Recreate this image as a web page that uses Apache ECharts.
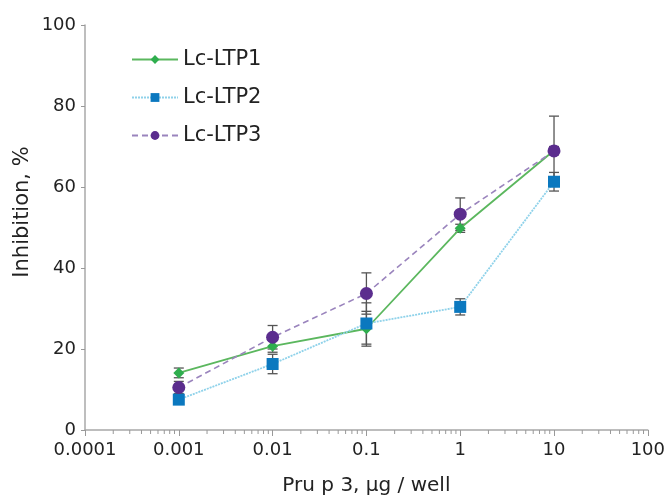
<!DOCTYPE html>
<html>
<head>
<meta charset="utf-8">
<script src="https://cdn.jsdelivr.net/npm/echarts@6/dist/echarts.min.js"></script>
<style>
html,body{margin:0;padding:0;background:#fff;}
#c{width:668px;height:501px;}
</style>
</head>
<body>
<div id="c"></div>
<script>
// ---- data ----
var doses = [0.001, 0.01, 0.1, 1, 10];
var ltp1 = [14.1, 20.7, 25.0, 49.8, 69.0];
var ltp1Err = [1.2, 1.5, 4.3, 1.0, 1.0];
var ltp2 = [7.5, 16.3, 26.3, 30.4, 61.3];
var ltp2Err = [1.0, 2.4, 5.1, 2.0, 2.3];
var ltp3 = [10.5, 22.9, 33.7, 53.3, 68.9];
var ltp3Err = [1.5, 2.9, 5.1, 4.0, 8.6];
var seriesNames = ['Lc-LTP1', 'Lc-LTP2', 'Lc-LTP3'];
var xTickLabels = {'0.0001':'0.0001','0.001':'0.001','0.01':'0.01','0.1':'0.1','1':'1','10':'10','100':'100'};
var minorTickValues = [];
[0.0001, 0.001, 0.01, 0.1, 1, 10].forEach(function(d){
  for (var m = 2; m <= 9; m++) minorTickValues.push(+(d*m).toPrecision(3));
});

var FONT = '"DejaVu Sans", sans-serif';
var colors = {
  g: '#5bb75e', gm: '#2fae4e',
  b: '#8fd2ea', bm: '#0b78bf',
  p: '#9a84bd', pm: '#5b2d8e'
};

function pairs(vals){ return doses.map(function(d,i){ return [d, vals[i]]; }); }
function errData(vals, errs){ return doses.map(function(d,i){ return [d, vals[i]-errs[i], vals[i]+errs[i]]; }); }

function errRender(params, api){
  var x = api.value(0);
  var lo = api.coord([x, api.value(1)]);
  var hi = api.coord([x, api.value(2)]);
  var w = 5;
  var st = {stroke:'#555', lineWidth:1.3};
  return {type:'group', children:[
    {type:'line', shape:{x1:lo[0],y1:lo[1],x2:hi[0],y2:hi[1]}, style:st},
    {type:'line', shape:{x1:lo[0]-w,y1:lo[1],x2:lo[0]+w,y2:lo[1]}, style:st},
    {type:'line', shape:{x1:hi[0]-w,y1:hi[1],x2:hi[0]+w,y2:hi[1]}, style:st}
  ]};
}

function minorRender(params, api){
  var p = api.coord([api.value(0), api.value(1)]);
  return {type:'line', shape:{x1:p[0],y1:p[1],x2:p[0],y2:p[1]+4}, style:{stroke:'#999', lineWidth:1}};
}

var chart = echarts.init(document.getElementById('c'));
chart.setOption({
  animation:false,
  backgroundColor:'#fff',
  grid:{left:85, right:20, top:25, bottom:71, containLabel:false},
  legend:{
    orient:'vertical', left:126, top:44, itemGap:17,
    itemWidth:46, itemHeight:11,
    data: seriesNames,
    textStyle:{fontFamily:FONT, fontSize:21, color:'#222'}
  },
  graphic:[{
    type:'text', x:23, y:212, rotation:Math.PI/2,
    style:{text:'Inhibition, %', font:'21px "DejaVu Sans", sans-serif', fill:'#222',
      align:'center', verticalAlign:'middle'}
  }],
  xAxis:{
    type:'log', logBase:10, min:0.0001, max:100,
    name:'Pru p 3, μg / well', nameLocation:'middle', nameGap:46,
    nameTextStyle:{fontFamily:FONT, fontSize:20, color:'#222'},
    axisLine:{lineStyle:{color:'#a8a8a8', width:1.5}},
    axisTick:{show:true, length:6, inside:false, lineStyle:{color:'#999'}},
    splitLine:{show:false},
    axisLabel:{fontFamily:FONT, fontSize:18, color:'#222', margin:11,
      formatter:function(v){ var k=String(+v.toPrecision(3)); return xTickLabels[k]!==undefined?xTickLabels[k]:k; }}
  },
  yAxis:{
    type:'value', min:0, max:100, interval:20,
    axisLine:{show:true, lineStyle:{color:'#a8a8a8', width:1.5}},
    axisTick:{show:true, length:4, lineStyle:{color:'#999'}},
    splitLine:{show:false},
    axisLabel:{fontFamily:FONT, fontSize:18, color:'#222', margin:9}
  },
  series:[
    {type:'custom', name:'minor', renderItem:minorRender, data:minorTickValues.map(function(v){return [v, 0];}),
      silent:true, z:1, clip:false},
    {type:'custom', name:'err1', renderItem:errRender, data:errData(ltp1, ltp1Err), z:3, silent:true},
    {type:'custom', name:'err2', renderItem:errRender, data:errData(ltp2, ltp2Err), z:3, silent:true},
    {type:'custom', name:'err3', renderItem:errRender, data:errData(ltp3, ltp3Err), z:3, silent:true},
    {type:'line', name:seriesNames[0], data:pairs(ltp1), symbol:'diamond', symbolSize:11,
      lineStyle:{color:colors.g, width:1.8}, itemStyle:{color:colors.gm}, z:4},
    {type:'line', name:seriesNames[1], data:pairs(ltp2), symbol:'rect', symbolSize:12,
      lineStyle:{color:colors.b, width:1.8, type:[2,1]}, itemStyle:{color:colors.bm}, z:4},
    {type:'line', name:seriesNames[2], data:pairs(ltp3), symbol:'circle', symbolSize:13,
      lineStyle:{color:colors.p, width:1.6, type:[6,4]}, itemStyle:{color:colors.pm}, z:5}
  ]
});
</script>
</body>
</html>
